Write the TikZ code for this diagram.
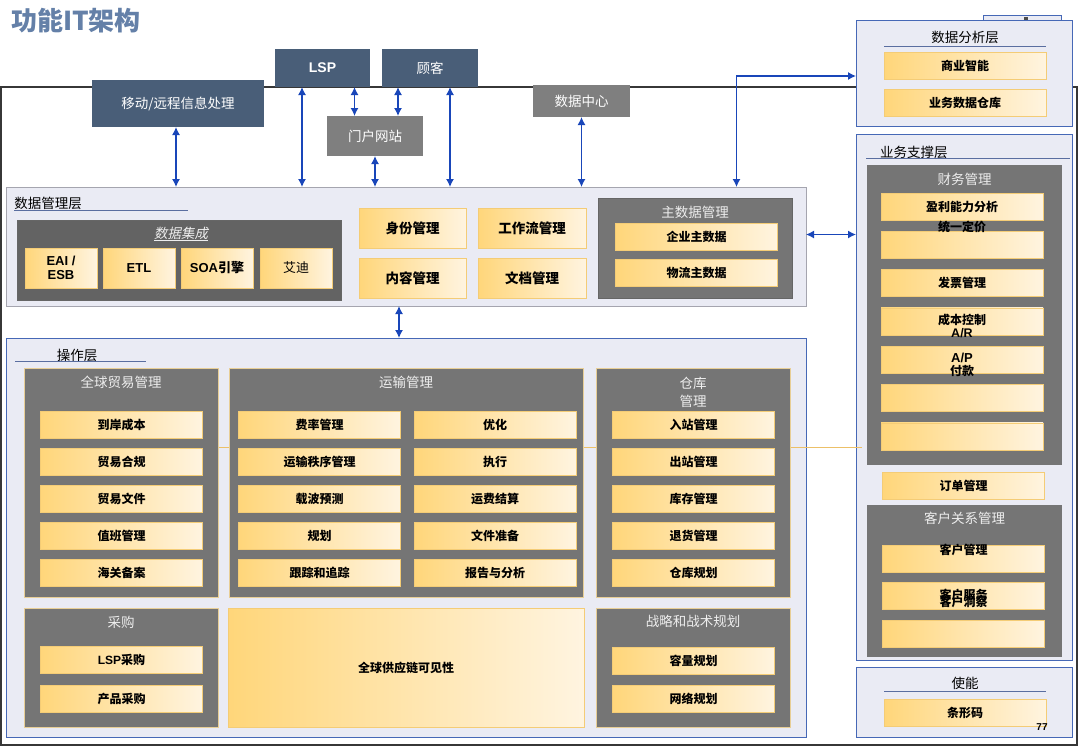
\documentclass[tikz,border=0pt]{standalone}
\usepackage{fontspec}
\setmainfont{Noto Sans CJK SC}
\newfontfamily\arialfont{Liberation Sans}
\newfontfamily\slantcjk{Noto Sans CJK SC}[FakeSlant=0.2]
\usepackage{tikz}
\usetikzlibrary{arrows.meta}
\definecolor{titleblue}{RGB}{100,128,168}
\definecolor{slatebox}{RGB}{73,94,120}
\definecolor{greybox}{RGB}{127,127,127}
\definecolor{dkgray}{RGB}{117,117,117}
\definecolor{dkedge}{RGB}{232,206,150}
\definecolor{panelbg}{RGB}{234,235,244}
\definecolor{panelbd}{RGB}{70,104,182}
\definecolor{dmlbd}{RGB}{165,165,175}
\definecolor{itemL}{RGB}{255,214,122}
\definecolor{itemR}{RGB}{255,244,224}
\definecolor{itembd}{RGB}{244,204,118}
\definecolor{linkline}{RGB}{236,192,104}
\definecolor{arrowblue}{RGB}{25,70,185}
\definecolor{hdrtext}{RGB}{238,238,238}
\definecolor{ulinec}{RGB}{90,110,160}
\definecolor{framec}{RGB}{55,55,55}
\newcommand{\hdrfont}{\fontsize{13.5}{16}\selectfont}
\newcommand{\itemfont}{\fontsize{12}{14}\selectfont\bfseries}

\tikzset{
  boxsize/.style 2 args={minimum width=#1pt, minimum height=#2pt},
  panel/.style={draw=panelbd, fill=panelbg, line width=0.9pt, anchor=north west, inner sep=0pt, outer sep=0pt},
  dkpane/.style={fill=dkgray, draw=dkedge, line width=0.6pt, anchor=north west, inner sep=0pt, outer sep=0pt},
  item/.style={shading=axis, left color=itemL, right color=itemR, draw=itembd, line width=0.6pt,
    boxsize={162}{27}, inner sep=0pt, outer sep=0pt, font=\itemfont},
  hdr/.style={text=hdrtext, font=\hdrfont, inner sep=0pt},
  ptitle/.style={font=\hdrfont, inner sep=0pt},
  topbox/.style={fill=slatebox, text=white, font=\hdrfont, anchor=north west, inner sep=0pt, outer sep=0pt},
  biarrow/.style={{Latex[length=8pt,width=8pt]}-{Latex[length=8pt,width=8pt]}, draw=arrowblue, line width=1.3pt},
  uline/.style={draw=ulinec, line width=0.9pt},
}

\begin{document}
\begin{tikzpicture}[x=1pt, y=-1pt]
  \useasboundingbox (0,0) rectangle (1080,748);

  % --- title and frame ---
  \node[anchor=west, text=titleblue, inner sep=0pt, font=\fontsize{26}{30}\selectfont\bfseries] (title) at (11,21) {功能IT架构};
  \draw[framec, line width=1.2pt] (1,87) rectangle (1077,745);

  % --- right column ---
  \draw[fill=panelbg, draw=panelbd, line width=0.6pt] (983,15) rectangle (1061,32);
  \fill[black!70] (1024,17) rectangle (1028,21);

  \node[panel, boxsize={216}{106}] (ana) at (856,20) {};
  \node[ptitle] (anat) at (965,37) {数据分析层};
  \draw[uline] (884,46) -- (1046,46);
  \node[item] (bi) at (965,66) {商业智能};
  \node[item] (bdw) at (965,103) {业务数据仓库};

  \node[panel, boxsize={216}{526}] (biz) at (856,134) {};
  \node[ptitle, anchor=west] (bizt) at (880,152) {业务支撑层};
  \draw[uline] (866,158) -- (1070,158);

  \node[dkpane, draw=none, boxsize={195}{300}] (fin) at (867,165) {};
  \node[hdr] (fint) at (964.5,179) {财务管理};
  \node[item] (fin0) at (962,206.5) {盈利能力分析};
  \foreach \i in {1,...,6} {
    \node[item] (fin\i) at (962,206.5+38.3*\i) {};
  }
  \node[font=\itemfont, inner sep=0pt] (pricing) at (962,227) {统一定价};
  \node[font=\itemfont, inner sep=0pt] (invoice) at (962,283) {发票管理};
  \node[font=\itemfont, inner sep=0pt] (costc) at (962,320) {成本控制};
  \node[font=\arialfont\bfseries\fontsize{12.5}{14}\selectfont, inner sep=0pt] (ar) at (962,333) {A/R};
  \node[font=\arialfont\bfseries\fontsize{13}{14}\selectfont, inner sep=0pt] (ap) at (962,358) {A/P};
  \node[font=\itemfont, inner sep=0pt] (pay) at (962,371) {付款};

  \node[item] (order) at (963.5,485.5) {订单管理};

  \node[dkpane, draw=none, boxsize={195}{152}] (crm) at (867,505) {};
  \node[hdr] (crmt) at (964.5,518) {客户关系管理};
  \foreach \i in {0,1,2} {
    \node[item] (crm\i) at (963.5,558.5+37.5*\i) {};
  }
  \node[font=\itemfont, inner sep=0pt] (custm) at (963.5,550) {客户管理};
  \node[font=\itemfont, inner sep=0pt] (custs) at (963.5,595) {客户服务};
  \node[font=\itemfont, inner sep=0pt] (custi) at (963.5,602) {客户洞察};

  \node[panel, boxsize={216}{70}] (enab) at (856,667) {};
  \node[ptitle] (enabt) at (965,683) {使能};
  \draw[uline] (884,691) -- (1046,691);
  \node[item] (barcode) at (965,713) {条形码};
  \node[font=\arialfont\bfseries\fontsize{10}{12}\selectfont, inner sep=0pt] (pgno) at (1042,727) {77};

  % --- top systems ---
  \node[topbox, boxsize={172}{47}] (mobile) at (92,80) {移动/远程信息处理};
  \node[topbox, boxsize={95}{38}, font=\arialfont\bfseries\fontsize{14}{16}\selectfont] (lsp) at (275,49) {LSP};
  \node[topbox, boxsize={96}{38}] (cust) at (382,49) {顾客};
  \node[topbox, fill=greybox, boxsize={96}{40}] (portal) at (327,116) {门户网站};
  \node[topbox, fill=greybox, boxsize={97}{32}] (dc) at (533,85) {数据中心};

  % --- data management layer ---
  \node[panel, draw=dmlbd, boxsize={800}{119}] (dml) at (6,187) {};
  \node[ptitle] (dmlt) at (48,203) {数据管理层};
  \draw[uline] (14,210) -- (188,210);

  \node[dkpane, fill=dkgray!85!black, draw=black!60, line width=0.9pt, boxsize={324}{80}] (integ) at (17,220) {};
  \node[hdr, font=\slantcjk\hdrfont] (integt) at (181,234) {\underline{数据集成}};
  \node[item, boxsize={72}{40}, anchor=north west, align=center, font=\arialfont\bfseries\fontsize{13}{14}\selectfont] (eai) at (25,248) {EAI /\\ESB};
  \node[item, boxsize={72}{40}, anchor=north west, font=\arialfont\bfseries\fontsize{13}{14}\selectfont] (etl) at (103,248) {ETL};
  \node[item, boxsize={72}{40}, anchor=north west, font=\fontsize{13}{14}\selectfont\bfseries] (soa) at (181,248) {{\arialfont SOA}引擎};
  \node[item, boxsize={72}{40}, anchor=north west, font=\fontsize{13}{14}\selectfont] (aidi) at (260,248) {艾迪};

  \node[item, boxsize={107}{40}, anchor=north west, font=\fontsize{13.5}{16}\selectfont\bfseries] (ident) at (359,208) {身份管理};
  \node[item, boxsize={107}{40}, anchor=north west, font=\fontsize{13.5}{16}\selectfont\bfseries] (content) at (359,258) {内容管理};
  \node[item, boxsize={108}{40}, anchor=north west, font=\fontsize{13.5}{16}\selectfont\bfseries] (wflow) at (478,208) {工作流管理};
  \node[item, boxsize={108}{40}, anchor=north west, font=\fontsize{13.5}{16}\selectfont\bfseries] (docm) at (478,258) {文档管理};

  \node[dkpane, draw=black!60, line width=0.9pt, boxsize={194}{100}] (mdm) at (598,198) {};
  \node[hdr] (mdmt) at (695,212) {主数据管理};
  \node[item] (ent) at (696.5,237) {企业主数据};
  \node[item] (logi) at (696.5,273) {物流主数据};

  % --- operation layer ---
  \node[panel, boxsize={800}{399}] (op) at (6,338) {};
  \node[ptitle] (opt) at (77,355) {操作层};
  \draw[uline] (15,361) -- (146,361);
  \draw[linkline, line width=0.9pt] (203,447) -- (862,447);

  \node[dkpane, boxsize={194}{229}] (gtm) at (24,368) {};
  \node[hdr] (gtmt) at (121,382) {全球贸易管理};
  \foreach \t [count=\i from 0] in {到岸成本,贸易合规,贸易文件,值班管理,海关备案} {
    \node[item] (gtm\i) at (121.5,424.5+37*\i) {\t};
  }

  \node[dkpane, boxsize={354}{229}] (trans) at (229,368) {};
  \node[hdr] (transt) at (406,382) {运输管理};
  \foreach \t [count=\i from 0] in {费率管理,运输秩序管理,载波预测,规划,跟踪和追踪} {
    \node[item] (tl\i) at (319.5,424.5+37*\i) {\t};
  }
  \foreach \t [count=\i from 0] in {优化,执行,运费结算,文件准备,报告与分析} {
    \node[item] (tr\i) at (495,424.5+37*\i) {\t};
  }

  \node[dkpane, boxsize={194}{229}] (wh) at (596,368) {};
  \node[hdr, align=center] (wht) at (693,392) {仓库\\[2pt]管理};
  \foreach \t [count=\i from 0] in {入站管理,出站管理,库存管理,退货管理,仓库规划} {
    \node[item] (wh\i) at (693.5,424.5+37*\i) {\t};
  }

  \node[dkpane, boxsize={194}{119}] (proc) at (24,608) {};
  \node[hdr] (proct) at (121,622) {采购};
  \node[item] (proc0) at (121.5,660) {{\arialfont LSP}采购};
  \node[item] (proc1) at (121.5,699) {产品采购};

  \node[item, anchor=north west, boxsize={356}{119}] (gscv) at (228,608) {全球供应链可见性};

  \node[dkpane, boxsize={194}{119}] (stp) at (596,608) {};
  \node[hdr] (stpt) at (693,621) {战略和战术规划};
  \node[item] (stp0) at (693.5,660.5) {容量规划};
  \node[item] (stp1) at (693.5,699) {网络规划};

  % --- connectors ---
  \draw[biarrow] ([xshift=-2pt]mobile.south) -- ([xshift=-2pt]mobile.south |- dml.north);
  \draw[biarrow] ([xshift=-20.5pt]lsp.south) -- ([xshift=-20.5pt]lsp.south |- dml.north);
  \draw[biarrow] ([xshift=32pt]lsp.south) -- ([xshift=32pt]lsp.south |- portal.north);
  \draw[biarrow] ([xshift=-32pt]cust.south) -- ([xshift=-32pt]cust.south |- portal.north);
  \draw[biarrow] (portal.south) -- (portal.south |- dml.north);
  \draw[biarrow] ([xshift=20pt]cust.south) -- ([xshift=20pt]cust.south |- dml.north);
  \draw[biarrow] (dc.south) -- (dc.south |- dml.north);
  \draw[biarrow] ([xshift=330.5pt]dml.north) |- ([yshift=-3pt]ana.west);
  \draw[biarrow] ([yshift=12pt]dml.east) -- ([yshift=12pt]dml.east -| biz.west);
  \draw[biarrow] ([xshift=-7pt]dml.south) -- ([xshift=-7pt]dml.south |- op.north);

\end{tikzpicture}
\end{document}
